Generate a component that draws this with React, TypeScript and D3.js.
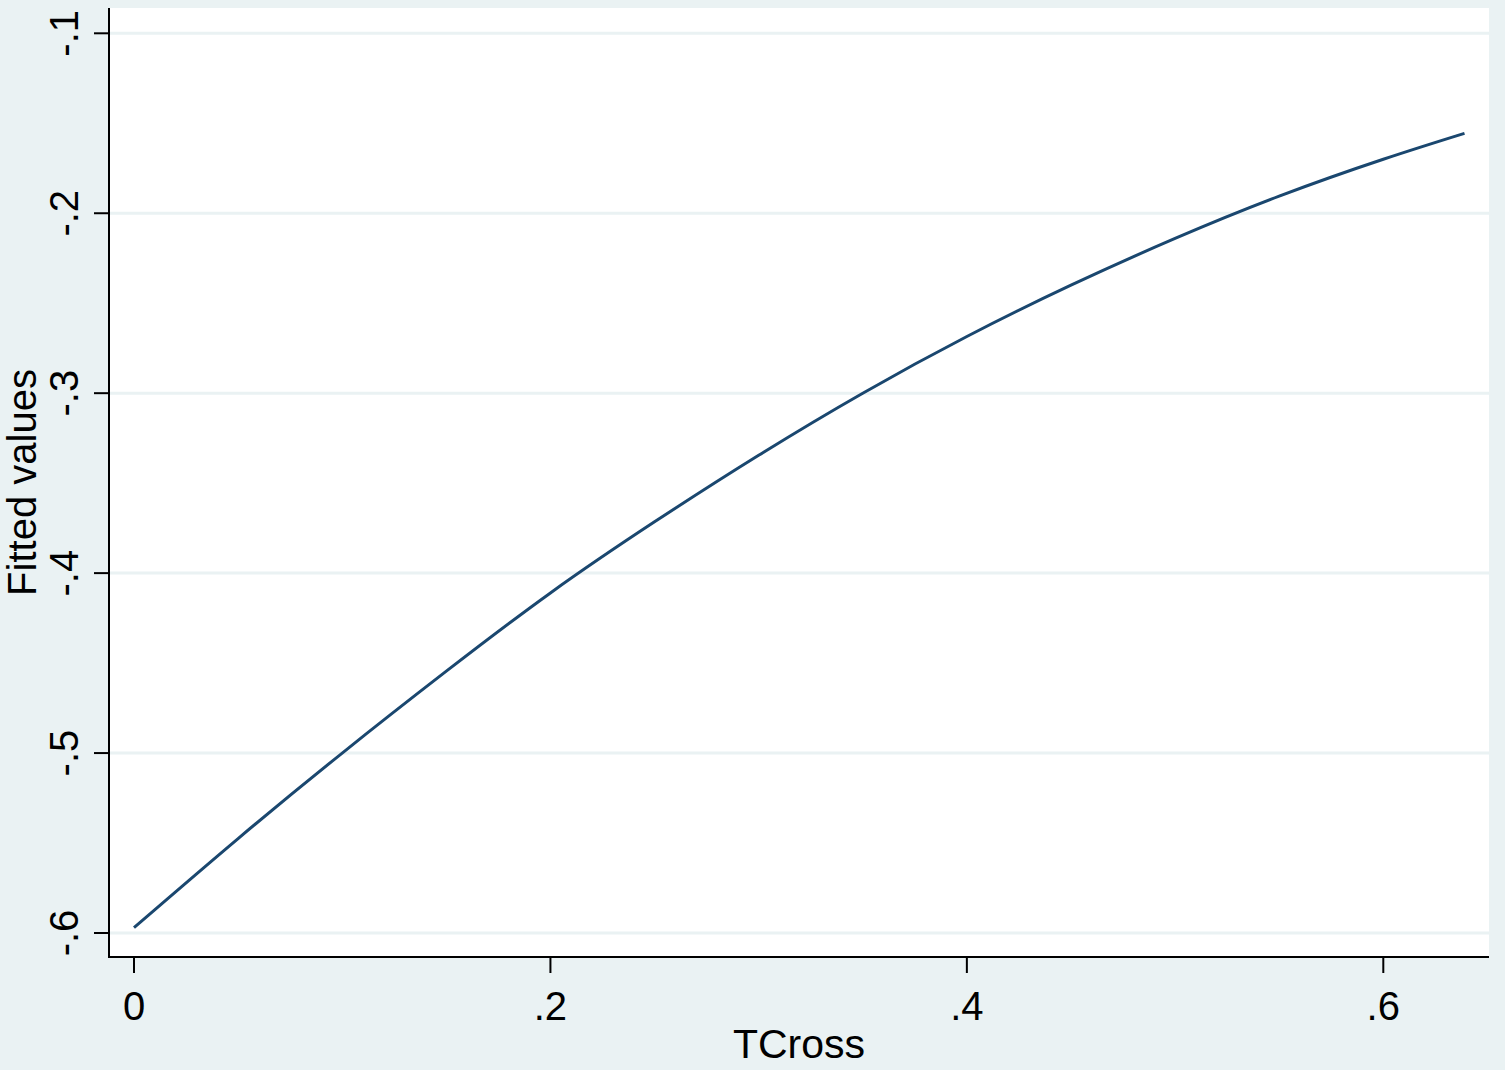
import React from "react";
import * as d3 from "d3";

// TCross values and corresponding fitted values
const tcross = [0, 0.05, 0.1, 0.15, 0.2, 0.25, 0.3, 0.35, 0.4, 0.45, 0.5, 0.55, 0.6, 0.639];
const fitted = [-0.597, -0.5475, -0.5, -0.4545, -0.411, -0.3715, -0.3345, -0.3, -0.2685, -0.24, -0.214, -0.1905, -0.17, -0.1556];

const xTicks = [0, 0.2, 0.4, 0.6];
const xTickLabels = ["0", ".2", ".4", ".6"];
const yTicks = [-0.1, -0.2, -0.3, -0.4, -0.5, -0.6];
const yTickLabels = ["-.1", "-.2", "-.3", "-.4", "-.5", "-.6"];

const W = 1505;
const H = 1070;
const plotLeft = 109;
const plotRight = 1489;
const plotTop = 8;
const plotBottom = 957;

const BG = "#EAF2F3";
const LINE = "#1A476F";
const FONT = "'Liberation Sans', Arial, Helvetica, sans-serif";

export default function App() {
  const x = d3.scaleLinear().domain([0, 0.6]).range([134, 1383.3]);
  const y = d3.scaleLinear().domain([-0.6, -0.1]).range([933, 33.3]);
  const data = tcross.map((t, i) => ({ t, v: fitted[i] }));
  const line = d3
    .line<{ t: number; v: number }>()
    .x((d) => x(d.t))
    .y((d) => y(d.v))
    .curve(d3.curveNatural);

  return (
    <svg
      width={W}
      height={H}
      style={{ position: "absolute", left: 0, top: 0, display: "block" }}
    >
      <rect x={0} y={0} width={W} height={H} fill={BG} />
      <rect
        x={plotLeft}
        y={plotTop}
        width={plotRight - plotLeft}
        height={plotBottom - plotTop}
        fill="#FFFFFF"
      />
      {/* gridlines */}
      {yTicks.map((t) => (
        <line
          key={"g" + t}
          x1={plotLeft}
          x2={plotRight}
          y1={y(t)}
          y2={y(t)}
          stroke={BG}
          strokeWidth={3}
        />
      ))}
      {/* curve */}
      <path d={line(data) || ""} fill="none" stroke={LINE} strokeWidth={3} />
      {/* axes */}
      <line x1={plotLeft} x2={plotLeft} y1={plotTop} y2={plotBottom + 1} stroke="#000" strokeWidth={2} />
      <line x1={plotLeft - 1} x2={plotRight} y1={plotBottom} y2={plotBottom} stroke="#000" strokeWidth={2} />
      {yTicks.map((t, i) => (
        <g key={"y" + t}>
          <line x1={plotLeft - 15} x2={plotLeft} y1={y(t)} y2={y(t)} stroke="#000" strokeWidth={2} />
          <text
            transform={`translate(78,${y(t)}) rotate(-90)`}
            textAnchor="middle"
            fontFamily={FONT}
            fontSize={40}
            fill="#000"
          >
            {yTickLabels[i]}
          </text>
        </g>
      ))}
      {xTicks.map((t, i) => (
        <g key={"x" + t}>
          <line x1={x(t)} x2={x(t)} y1={plotBottom} y2={plotBottom + 16} stroke="#000" strokeWidth={2} />
          <text
            x={x(t)}
            y={1020}
            textAnchor="middle"
            fontFamily={FONT}
            fontSize={40}
            fill="#000"
          >
            {xTickLabels[i]}
          </text>
        </g>
      ))}
      <text
        x={(plotLeft + plotRight) / 2}
        y={1058}
        textAnchor="middle"
        fontFamily={FONT}
        fontSize={41}
        fill="#000"
      >
        TCross
      </text>
      <text
        transform={`translate(36,${(plotTop + plotBottom) / 2}) rotate(-90)`}
        textAnchor="middle"
        fontFamily={FONT}
        fontSize={40}
        fill="#000"
      >
        Fitted values
      </text>
    </svg>
  );
}
